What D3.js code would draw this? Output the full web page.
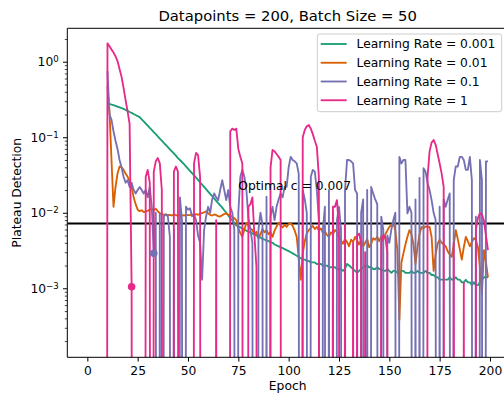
<!DOCTYPE html>
<html><head><meta charset="utf-8">
<script src="https://cdn.jsdelivr.net/npm/d3@7"></script>
<style>body{margin:0;background:#fff;} svg{display:block;font-family:"DejaVu Sans",sans-serif;}</style>
</head><body><svg id="c" width="504" height="399"></svg>
<script>
const title = "Datapoints = 200, Batch Size = 50";
const xLabel = "Epoch";
const yLabel = "Plateau Detection";
const seriesLabels = ["Learning Rate = 0.001","Learning Rate = 0.01","Learning Rate = 0.1","Learning Rate = 1"];
const seriesColors = ["#1b9e77","#d95f02","#7570b3","#e7298a"];
const seriesStart = [10,10,10,9];
const xTicks = [0,25,50,75,100,125,150,175,200];
const yTicks = [1e-3,1e-2,1e-1,1];
const yTickExp = ["\u22123","\u22122","\u22121","0"];
const optimalC = 0.0072;
const optimalLabel = "Optimal c = 0.007";
const optimalLabelPos = [75, 0.02];
// first detected plateau points
const plateauSeries = [3, 2];
const plateauEpoch = [22, 33];

// LR 0.001 (epochs 10..199)
const lr0001 = [
0.28,0.276,0.271,0.266,0.261,0.255,0.249,0.243,0.237,0.23,
0.223,0.216,0.21,0.203,0.197,0.19,0.185,0.173,0.162,0.152,
0.142,0.133,0.125,0.117,0.11,0.103,0.096,0.09,0.084,0.079,
0.074,0.069,0.065,0.061,0.057,0.053,0.05,0.047,0.044,0.041,
0.0385,0.036,0.0336,0.0313,0.0292,0.0272,0.0253,0.0236,0.022,0.0205,
0.0191,0.0178,0.0166,0.0155,0.0144,0.0134,0.0125,0.0117,0.0108,0.01,
0.0092,0.0085,0.0079,0.0073,0.0068,0.0066,0.0064,0.0062,0.006,0.0058,
0.0056,0.0055,0.0053,0.0052,0.005,0.0048,0.0047,0.0045,0.0044,0.0043,
0.0042,0.0041,0.004,0.0038,0.0037,0.0036,0.0035,0.0034,0.0033,0.0032,
0.0031,0.003,0.0029,0.0028,0.0027,0.0026,0.0025,0.0024,0.0024,0.0023,
0.0023,0.0022,0.0022,0.0022,0.0021,0.0021,0.0021,0.002,0.002,0.002,
0.0019,0.0019,0.0019,0.0019,0.0018,0.0018,0.0018,0.0017,0.0018,0.0021,
0.002,0.0019,0.0018,0.0017,0.0016,0.0017,0.0018,0.0019,0.002,0.002,
0.0019,0.0019,0.0018,0.0018,0.0019,0.0018,0.0018,0.0017,0.0017,0.0018,
0.0017,0.0016,0.0017,0.0017,0.0016,0.0016,0.0017,0.0017,0.0016,0.0016,
0.0016,0.0017,0.0016,0.0016,0.0017,0.0016,0.0016,0.0016,0.0017,0.0016,
0.0016,0.0015,0.0015,0.0014,0.0014,0.0013,0.0013,0.0013,0.0013,0.0013,
0.0014,0.0013,0.0013,0.0014,0.0013,0.0013,0.0012,0.0012,0.0013,0.0012,
0.0012,0.0011,0.0012,0.0011,0.0011,0.0012,0.0013,0.0014,0.0014,0.0014
];
// LR 0.01 (epochs 10..199)
const lr001 = [
0.47,0.22,0.05,0.012,0.022,0.033,0.041,0.04,0.037,0.033,
0.03,0.026,0.022,0.016,0.013,0.011,0.0105,0.0108,0.0102,0.0104,
0.0106,0.011,0.0113,0.0108,0.0113,0.0105,0.0098,0.0096,0.0094,0.0095,
0.0093,0.0094,0.0092,0.0095,0.0093,0.0091,0.0094,0.0093,0.0092,0.0094,
0.0093,0.0093,0.0095,0.0092,0.0096,0.0094,0.0097,0.0099,0.0101,0.0105,
0.0098,0.0094,0.0092,0.0095,0.0093,0.009,0.0089,0.0093,0.0096,0.0098,
0.0094,0.0092,0.0088,0.0085,0.008,0.0062,0.0054,0.0048,0.006,0.0073,
0.0068,0.0062,0.0059,0.0052,0.0056,0.0046,0.0052,0.0061,0.0055,0.0059,
0.0052,0.0055,0.0048,0.0058,0.0066,0.0073,0.0068,0.0064,0.0069,0.0065,
0.0071,0.0073,0.0067,0.0058,0.0048,0.0025,0.0013,0.0029,0.0042,0.0053,
0.0059,0.0063,0.0067,0.0061,0.0065,0.0058,0.0062,0.0054,0.0057,0.0051,
0.0048,0.0055,0.0052,0.0059,0.0056,0.0047,0.0043,0.0039,0.0045,0.0041,
0.0036,0.0044,0.0041,0.0048,0.0043,0.0038,0.0044,0.0036,0.004,0.0045,
0.0035,0.0039,0.0046,0.0044,0.0048,0.0042,0.0049,0.0044,0.0052,0.0058,
0.0065,0.0069,0.0073,0.0058,0.0032,0.00038,0.0022,0.0029,0.0038,0.0048,
0.0059,0.0052,0.0038,0.0021,0.0035,0.0052,0.0065,0.0062,0.0066,0.0065,
0.0065,0.0048,0.0017,0.0028,0.0039,0.0044,0.004,0.0038,0.0036,0.0031,
0.0028,0.0026,0.0038,0.0059,0.0045,0.0033,0.0024,0.0035,0.0048,0.0042,
0.0036,0.0041,0.0046,0.0044,0.0035,0.0019,0.00085,0.0032,0.0022,0.0014
];
// LR 0.1 (epochs 10..199)
const lr01 = [
0.75,0.2,0.17,0.12,0.09,0.07,0.05,0.04,0.03,0.025,
0.027,0.022,0.025,0.02,0.018,0.02,0.022,0.02,0.018,0.02,
0.016,0.022,0.012,0.0029,0.01,0,0.0098,0,0.009,0.0095,
0.009,0.0048,0,0.006,0,0,0.016,0.008,0,0.012,
0.011,0.0115,0.009,0.0095,0.008,0.005,0.004,0.0013,0.0059,0.009,
0.012,0.01,0.015,0.018,0.016,0.0147,0.02,0.027,0.02,0.0147,
0.02,0.012,0.01,0.006,0,0.01,0.03,0.037,0.03,0.02,
0.0085,0.006,0.004,0,0,0.006,0.01,0.007,0,0.0163,
0,0.009,0.012,0.008,0.012,0.015,0.018,0.016,0.022,0.022,
0.04,0.055,0.05,0.048,0.045,0.033,0,0.02,0.015,0.01,
0,0.03,0.037,0.035,0.02,0.008,0,0.006,0.012,0,
0.02,0,0.01,0,0.008,0.012,0.006,0,0.02,0.05,
0.05,0.048,0.045,0.02,0.018,0,0.01,0.015,0,0.02,
0,0.022,0.018,0.015,0.013,0,0.0089,0.006,0,0.005,
0.004,0.006,0.008,0.01,0,0.055,0.045,0.05,0.05,0.0098,
0.012,0.01,0,0.015,0,0.029,0,0.039,0.035,0.025,
0.02,0.0147,0.01,0.008,0,0.012,0,0.015,0.012,0.015,
0.018,0,0.027,0.041,0.041,0.055,0.055,0.05,0.037,0.037,
0.055,0.027,0,0.0089,0,0.05,0.027,0,0.048,0.048
];
// LR 1 (epochs 9..199)
const lr1 = [
0,
1.75,1.6,1.45,1.32,1.18,1.02,0.8,0.63,0.45,0.31,
0.22,0.15,0.00105,0,0,0,0,0,0,0.03,
0.037,0.025,0,0.035,0.048,0.053,0.045,0.02,0,0,
0,0,0,0.035,0.041,0.035,0,0,0,0,
0,0,0,0.045,0.062,0.058,0.03,0,0,0,
0,0,0,0,0.008,0,0,0,0,0,
0,0.12,0.13,0.125,0.13,0.07,0.055,0.045,0,0,
0.012,0.013,0.016,0.005,0.0019,0,0,0,0,0,
0,0.04,0.068,0.065,0.06,0.055,0.05,0,0,0,
0,0,0,0,0,0,0,0.1,0.125,0.14,
0.145,0.13,0.11,0.09,0.075,0.03,0,0,0,0,
0,0,0.012,0.012,0.0147,0.006,0,0,0.007,0,
0,0,0.004,0,0.005,0.0053,0.004,0,0.003,0,
0,0,0,0,0,0,0.004,0.005,0.0048,0.003,
0,0,0,0,0,0,0,0,0,0,
0,0,0,0,0,0,0,0,0,0.03,
0.065,0.085,0.092,0.08,0.06,0.045,0.033,0.022,0,0,
0,0,0.004,0,0,0,0,0.0012,0,0,
0,0,0,0.006,0.0085,0.0098,0.0095,0.0079,0.005,0.0032
];
const seriesValues = [lr0001, lr001, lr01, lr1];

const svg = d3.select("#c");
const L = 67.3, R = 508, T = 28.3, B = 357.3;
const x = d3.scaleLinear().domain([-9.95, 208.95]).range([L, R]);
const y = d3.scaleLog().domain([1.22e-4, 2.77]).range([B, T]);
const FS = 12.3;

svg.append("defs").append("clipPath").attr("id","clip")
  .append("rect").attr("x",L).attr("y",T).attr("width",R-L).attr("height",B-T);

const plot = svg.append("g").attr("clip-path","url(#clip)");

// optimal line
plot.append("line").attr("x1",L).attr("x2",R)
  .attr("y1",y(optimalC)).attr("y2",y(optimalC))
  .attr("stroke","#000").attr("stroke-width",1.85);

const floorVal = 1e-30;
const line = d3.line()
  .x(d => x(d[0]))
  .y(d => y(d[1] > 0 ? d[1] : floorVal));

seriesValues.forEach((vals, i) => {
  const pts = vals.map((v, k) => [seriesStart[i] + k, v]);
  plot.append("path").datum(pts)
    .attr("d", line).attr("fill","none")
    .attr("stroke", seriesColors[i]).attr("stroke-width",1.85)
    .attr("stroke-linejoin","round").attr("stroke-linecap","butt");
});

plateauSeries.forEach((s, j) => {
  const e = plateauEpoch[j];
  const v = seriesValues[s][e - seriesStart[s]];
  plot.append("circle").attr("cx", x(e)).attr("cy", y(v)).attr("r", 3.8)
    .attr("fill", seriesColors[s]);
});

// optimal label
svg.append("text").attr("x", x(optimalLabelPos[0])).attr("y", y(optimalLabelPos[1]))
  .style("font-size", FS + "px").attr("fill","#000").text(optimalLabel);

// axes
const xAxis = svg.append("g").attr("transform",`translate(0,${B})`)
  .call(d3.axisBottom(x).tickValues(xTicks).tickSize(4.3).tickPadding(4.3).tickSizeOuter(0));
xAxis.attr("font-size", null).attr("font-family", null);
xAxis.selectAll("text").style("font-size",FS + "px").attr("fill","#000");
xAxis.select(".domain").remove();

const minors = [];
for (let d = -4; d <= 0; d++) for (let m = 2; m <= 9; m++) {
  const v = m * Math.pow(10, d);
  if (v >= 1.22e-4 && v <= 2.77) minors.push(v);
}
const yMinor = svg.append("g").attr("transform",`translate(${L},0)`)
  .call(d3.axisLeft(y).tickValues(minors).tickSize(2.5).tickFormat(() => ""));
yMinor.select(".domain").remove();
yMinor.selectAll("line").attr("stroke-width",0.7);

const yAxis = svg.append("g").attr("transform",`translate(${L},0)`)
  .call(d3.axisLeft(y).tickValues(yTicks).tickSize(4.3).tickFormat(() => ""));
yAxis.attr("font-size", null).attr("font-family", null);
yAxis.select(".domain").remove();
yAxis.selectAll(".tick").each(function(d, i) {
  const t = d3.select(this).append("text").attr("x", -8.6).attr("dy","0.32em")
    .attr("text-anchor","end").style("font-size",FS + "px").attr("fill","#000");
  t.append("tspan").text("10");
  t.append("tspan").attr("dy","-0.45em").style("font-size", (FS*0.7) + "px").text(yTickExp[i]);
});
svg.selectAll(".tick line").attr("stroke","#000");

// spines
svg.append("path").attr("d",`M${L},${T}V${B}H${R}`).attr("fill","none").attr("stroke","#000").attr("stroke-width",1);
svg.append("path").attr("d",`M${L},${T}H${R}`).attr("fill","none").attr("stroke","#000").attr("stroke-width",1);

// labels
svg.append("text").attr("x",(L+R)/2).attr("y",21).attr("text-anchor","middle")
  .style("font-size","14.8px").attr("fill","#000").text(title);
svg.append("text").attr("x",(L+R)/2).attr("y",390).attr("text-anchor","middle")
  .style("font-size",FS + "px").attr("fill","#000").text(xLabel);
svg.append("text").attr("transform",`translate(21,${(T+B)/2}) rotate(-90)`).attr("text-anchor","middle")
  .style("font-size",FS + "px").attr("fill","#000").text(yLabel);

// legend
const lg = svg.append("g");
lg.append("rect").attr("x",317.3).attr("y",34).attr("width",184.4).attr("height",77.7)
  .attr("rx",2.5).attr("fill","#fff").attr("fill-opacity",0.8).attr("stroke","#cccccc").attr("stroke-width",1);
seriesLabels.forEach((lab, i) => {
  const cy = 44 + i * 18.75;
  lg.append("line").attr("x1",320.7).attr("x2",346.7).attr("y1",cy).attr("y2",cy)
    .attr("stroke",seriesColors[i]).attr("stroke-width",1.85);
  lg.append("text").attr("x",356.5).attr("y",cy+4.4).style("font-size",FS + "px").attr("fill","#000").text(lab);
});
</script></body></html>
